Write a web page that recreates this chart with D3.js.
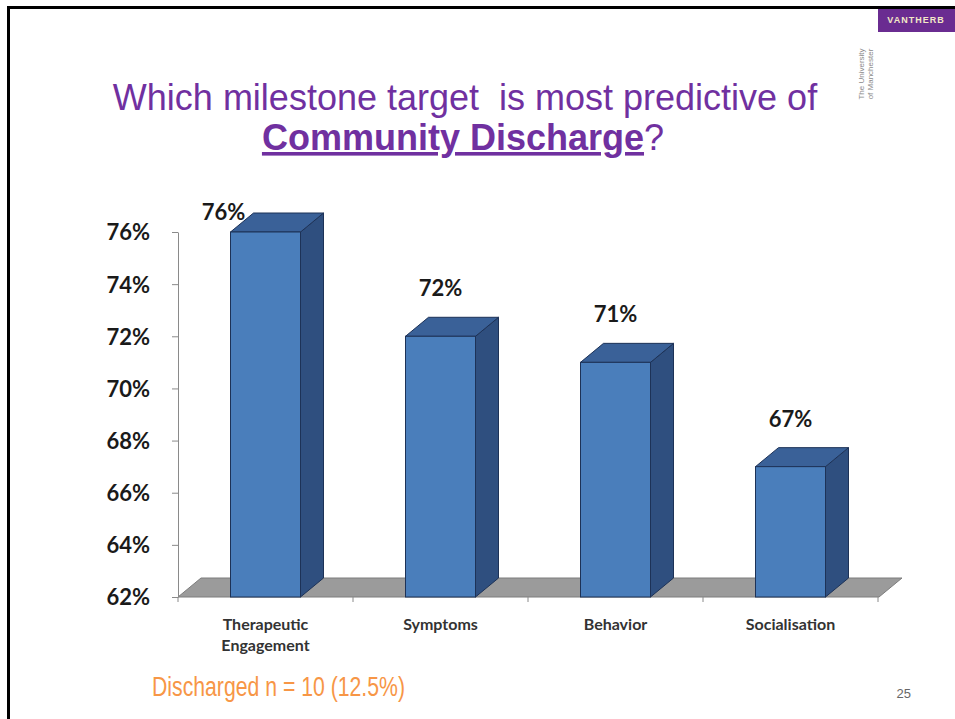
<!DOCTYPE html>
<html>
<head>
<meta charset="utf-8">
<script src="https://cdn.jsdelivr.net/npm/d3@7"></script>
<style>
  html, body { margin: 0; padding: 0; background: #fff; }
  svg { display: block; }
  .ylab { font-family: Lato, "Open Sans", sans-serif; font-weight: 700; font-size: 22px; fill: #1a1a1a; }
  .vlab { font-family: Lato, "Open Sans", sans-serif; font-weight: 700; font-size: 22px; fill: #1a1a1a; }
  .clab { font-family: Lato, "Open Sans", sans-serif; font-weight: 700; font-size: 16px; fill: #333; }
  .title { font-family: "Liberation Sans", Arial, sans-serif; font-size: 36px; fill: #7030A0; white-space: pre; }
</style>
</head>
<body>
<svg id="chart" width="955" height="719"></svg>
<script>
/* Slide 25: milestone target vs community discharge — faux-3D column chart. */
const CATEGORIES = [["Therapeutic", "Engagement"], ["Symptoms"], ["Behavior"], ["Socialisation"]];
const VALUES = [76, 72, 71, 67];
const Y_TICKS = [62, 64, 66, 68, 70, 72, 74, 76];

const svg = d3.select("#chart");
const keys = CATEGORIES.map(c => c.join(" "));

// slide frame
svg.append("line").attr("x1", 8).attr("x2", 955).attr("y1", 7.5).attr("y2", 7.5).attr("stroke", "#000").attr("stroke-width", 3);
svg.append("line").attr("x1", 8.5).attr("x2", 8.5).attr("y1", 6).attr("y2", 719).attr("stroke", "#000").attr("stroke-width", 3);

// logo block top right
svg.append("rect").attr("x", 878).attr("y", 9).attr("width", 77).attr("height", 23).attr("fill", "#6a2c91");
svg.append("text").attr("x", 916).attr("y", 23).attr("text-anchor", "middle")
  .style("font", "bold 9px 'Liberation Sans', Arial").attr("fill", "#f3e9c6").attr("letter-spacing", 1).text("VANTHERB");
svg.append("text").attr("transform", "translate(864,74) rotate(-90)").attr("text-anchor", "middle")
  .style("font", "8px 'Liberation Sans', Arial").attr("fill", "#8a8a8a").text("The University");
svg.append("text").attr("transform", "translate(873,74) rotate(-90)").attr("text-anchor", "middle")
  .style("font", "8px 'Liberation Sans', Arial").attr("fill", "#8a8a8a").text("of Manchester");

// title
svg.append("text").attr("class", "title").attr("x", 465).attr("y", 110).attr("text-anchor", "middle")
  .text("Which milestone target  is most predictive of");
const t2 = svg.append("text").attr("class", "title").attr("x", 463).attr("y", 150).attr("text-anchor", "middle");
t2.append("tspan").attr("font-weight", 700).attr("text-decoration", "underline").text("Community Discharge");
t2.append("tspan").text("?");

// scales
const x0 = 178, x1 = 878, yTop = 232, yBot = 597;
const DX = 23, DY = -19;
const x = d3.scaleBand().domain(keys).range([x0, x1]).paddingInner(0.6).paddingOuter(0.3);
const y = d3.scaleLinear().domain([62, 76]).range([yBot, yTop]);

// floor
const floorPts = [[x0, yBot], [x0 + DX, yBot + DY], [x1 + DX + 1, yBot + DY], [x1 + 1, yBot]];
svg.append("path").attr("d", d3.line()(floorPts) + "Z").attr("fill", "#9b9b9b").attr("stroke", "#7d7d7d").attr("stroke-width", 1);

// y axis
const gy = svg.append("g").attr("transform", `translate(${x0},0)`)
  .call(d3.axisLeft(y).tickValues(Y_TICKS).tickSize(6).tickSizeOuter(0).tickFormat(d => d + "%"));
gy.select(".domain").attr("stroke", "#8a8a8a");
gy.selectAll(".tick line").attr("stroke", "#8a8a8a");
gy.selectAll(".tick text").attr("class", "ylab").attr("x", -28).attr("dy", "0.36em");

// category ticks on floor front edge
svg.append("g").selectAll("line").data(d3.range(keys.length + 1)).join("line")
  .attr("x1", i => x0 + i * x.step()).attr("x2", i => x0 + i * x.step())
  .attr("y1", yBot).attr("y2", yBot + 5).attr("stroke", "#8a8a8a");

// bars
const bars = svg.append("g").selectAll("g").data(VALUES.map((v, i) => ({ k: keys[i], v, lines: CATEGORIES[i] }))).join("g");
bars.each(function (d) {
  const g = d3.select(this);
  const xl = x(d.k), xr = xl + x.bandwidth(), yt = y(d.v);
  const poly = pts => d3.line()(pts) + "Z";
  g.append("path").attr("d", poly([[xr, yt], [xr + DX, yt + DY], [xr + DX, yBot + DY], [xr, yBot]]))
    .attr("fill", "#2f4f7f").attr("stroke", "#1d3257").attr("stroke-width", 1);
  g.append("path").attr("d", poly([[xl, yt], [xl + DX, yt + DY], [xr + DX, yt + DY], [xr, yt]]))
    .attr("fill", "#3a6198").attr("stroke", "#1d3257").attr("stroke-width", 1);
  g.append("rect").attr("x", xl).attr("y", yt).attr("width", x.bandwidth()).attr("height", yBot - yt)
    .attr("fill", "#4a7ebb").attr("stroke", "#1d3257").attr("stroke-width", 1);

  // value label: sits ~50px above the bar, pulled left when it hits the top
  const ly = yt - 48;
  const clamp = ly < yTop - 20;
  g.append("text").attr("class", "vlab").attr("text-anchor", "middle")
    .attr("x", xl + x.bandwidth() / 2 + (clamp ? -42 : 0)).attr("y", clamp ? yTop - 12 : ly + 8)
    .text(d.v + "%");

  const tl = g.append("text").attr("class", "clab").attr("text-anchor", "middle");
  d.lines.forEach((s, j) => tl.append("tspan").attr("x", xl + x.bandwidth() / 2).attr("y", 630 + j * 21).text(s));
});

// footnote + page number
svg.append("text").attr("x", 152).attr("y", 696)
  .style("font", "27px 'Liberation Sans', Arial").attr("fill", "#f79646")
  .attr("textLength", 253).attr("lengthAdjust", "spacingAndGlyphs")
  .text("Discharged n = 10 (12.5%)");
svg.append("text").attr("x", 911).attr("y", 698).attr("text-anchor", "end")
  .style("font", "13px 'Liberation Sans', Arial").attr("fill", "#666").text("25");
</script>
</body>
</html>
